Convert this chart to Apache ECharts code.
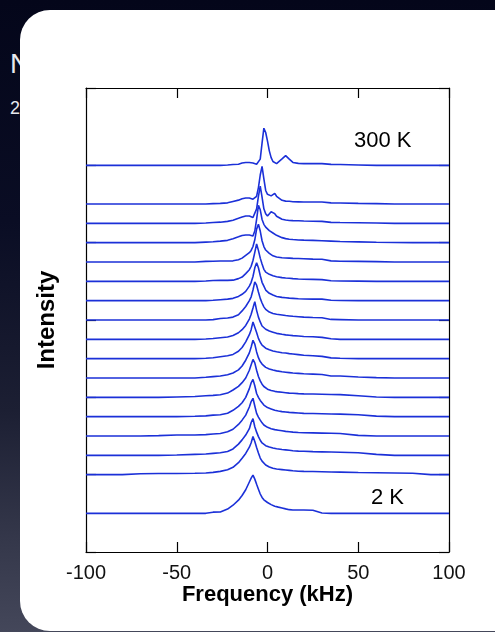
<!DOCTYPE html>
<html>
<head>
<meta charset="utf-8">
<script src="https://cdn.jsdelivr.net/npm/echarts@6/dist/echarts.min.js"></script>
<style>
  html, body { margin: 0; padding: 0; width: 495px; height: 632px; overflow: hidden; }
  body { background: linear-gradient(to bottom, #04061a 0%, #0a0d24 35%, #1c1f33 65%, #34374a 85%, #44475a 100%); position: relative; font-family: 'Liberation Sans', Arial, sans-serif; }
  #bgN { position: absolute; left: 10px; top: 46px; color: #e8e8ee; font-size: 28px; line-height: 36px; }
  #bg2 { position: absolute; left: 10px; top: 97px; color: #e8e8ee; font-size: 18px; line-height: 22px; }
  #card { position: absolute; left: 20px; top: 10px; width: 510px; height: 621px; background: #ffffff; border-radius: 30px; }
  #chart { position: absolute; left: 0; top: 0; width: 495px; height: 632px; }
</style>
</head>
<body>
<div id="bgN">N</div>
<div id="bg2">2</div>
<div id="card"></div>
<div id="chart"></div>
<script>
// Frequency grid (kHz)
const freq = [-100,-90,-80,-70,-60,-50,-40,
  -34,-30,-26,-22,-19,-16,-14,-12,-10,
  -9,-8,-7,-6,-5,-4,-3,-2,-1,0,1,2,3,4,5,6,
  8,10,12,14,17,20,25,30,35,40,
  50,60,70,80,90,100];

// Vertical offsets of each trace (top 300 K ... bottom 2 K)
const offsets = [20,18,17,16,15,14,13,12,11,10,9,8,7,6,5,4,2];

const tickLabels = ['-100','-50','0','50','100'];
const labelTop = '300 K';
const labelBottom = '2 K';

const s300 = [0,0,0,0,0,0,0,
  0,0,0,0.02,0.04,0.06,0.12,0.15,0.15,
  0.14,0.12,0.08,0.06,0.12,0.32,1.15,1.92,1.7,1.25,0.75,0.4,0.2,0.12,0.09,0.12,
  0.33,0.5,0.32,0.15,0.1,0.09,0.09,0.09,0.05,0.04,
  0.02,0,0,0,0,0];
const sT1 = [0,0,0,0,0,0,0,
  0,0.02,0.03,0.06,0.13,0.2,0.27,0.31,0.31,
  0.28,0.25,0.22,0.4,0.85,1.5,1.95,1.3,0.7,0.5,0.42,0.42,0.52,0.55,0.4,0.3,
  0.19,0.15,0.14,0.12,0.11,0.1,0.1,0.1,0.06,0.05,
  0.03,0.02,0,0,0,0];
const sT2 = [0,0,0,0,0,0,0,
  0.02,0.04,0.06,0.1,0.16,0.26,0.33,0.38,0.38,
  0.35,0.3,0.35,0.75,1.4,1.93,1.35,0.75,0.5,0.38,0.45,0.6,0.63,0.5,0.37,0.3,
  0.21,0.17,0.15,0.14,0.13,0.12,0.11,0.1,0.05,0.04,
  0.03,0.02,0,0,0,0];
const sT3 = [0,0,0,0,0,0,0,
  0.03,0.05,0.08,0.12,0.2,0.3,0.37,0.4,0.4,
  0.36,0.35,0.6,1.2,1.93,1.7,1.2,0.95,0.8,0.7,0.62,0.55,0.5,0.44,0.38,0.33,
  0.26,0.21,0.18,0.16,0.14,0.13,0.12,0.1,0.08,0.06,
  0.04,0.02,0.01,0,0,0];
const sT4 = [0,0,0,0,0,0,0,
  0.03,0.04,0.05,0.05,0.06,0.12,0.2,0.34,0.48,
  0.6,0.8,1.15,1.7,1.95,1.6,1.1,0.8,0.62,0.52,0.45,0.38,0.32,0.28,0.26,0.24,
  0.22,0.21,0.2,0.19,0.18,0.17,0.15,0.14,0.06,0.04,
  0.03,0.02,0,0,0,0];
const sT5 = [0,0,0,0,0,0,0,
  0.02,0.04,0.05,0.05,0.06,0.14,0.22,0.4,0.6,
  0.78,1.08,1.5,1.93,1.6,1.2,0.9,0.62,0.48,0.4,0.36,0.32,0.29,0.26,0.24,0.22,
  0.19,0.17,0.16,0.14,0.12,0.11,0.1,0.09,0.03,0.02,
  0.01,0,0,0,0,0];
const sT6 = [0,0,0,0,0,0,0,
  0,0.02,0.05,0.08,0.12,0.22,0.33,0.48,0.75,
  0.95,1.25,1.7,1.96,1.7,1.3,0.95,0.75,0.55,0.45,0.38,0.33,0.29,0.25,0.22,0.2,
  0.17,0.15,0.13,0.12,0.1,0.09,0.08,0.08,0.02,0.01,
  0,0,0,0,0,0];
const sT7 = [0,0,0,0,0,0,0,
  0,0.02,0.08,0.1,0.15,0.27,0.47,0.7,1.0,
  1.2,1.55,1.97,1.8,1.45,1.12,0.88,0.68,0.55,0.46,0.41,0.37,0.34,0.32,0.3,0.29,
  0.26,0.23,0.21,0.19,0.17,0.15,0.13,0.12,0.03,0.02,
  0,0,0,0,0,0];
const sT8 = [0,0,0,0,0,0,0,
  0.02,0.04,0.08,0.12,0.2,0.34,0.5,0.72,1.05,
  1.3,1.62,1.95,1.5,1.15,0.9,0.69,0.6,0.52,0.47,0.43,0.4,0.37,0.34,0.31,0.29,
  0.26,0.23,0.21,0.19,0.17,0.15,0.13,0.1,0.03,0,
  0,0,0,0,0,0];
const sT9 = [0,0,0,0,0,0,0,
  0.02,0.05,0.1,0.15,0.22,0.38,0.58,0.87,1.24,
  1.5,1.9,1.8,1.35,1.05,0.85,0.7,0.6,0.54,0.5,0.46,0.42,0.4,0.38,0.36,0.34,
  0.31,0.29,0.26,0.24,0.21,0.18,0.15,0.12,0.04,0.02,
  0,0,0,0,0,0];
const sT10 = [0,0,0,0,0,0,0,
  0.04,0.07,0.1,0.17,0.26,0.42,0.62,0.92,1.3,
  1.6,1.95,1.75,1.35,1.05,0.85,0.72,0.62,0.55,0.5,0.47,0.44,0.41,0.39,0.37,0.35,
  0.32,0.3,0.28,0.26,0.24,0.22,0.2,0.18,0.1,0.1,
  0.05,0.02,0,0,0,0];
const sT11 = [0,0,0,0,0,0.02,0.04,
  0.08,0.1,0.13,0.22,0.38,0.57,0.76,1.0,1.4,
  1.68,1.96,1.78,1.4,1.08,0.85,0.68,0.56,0.48,0.42,0.38,0.35,0.33,0.31,0.29,0.28,
  0.26,0.24,0.22,0.21,0.19,0.18,0.17,0.16,0.15,0.14,
  0.08,0.02,0,0,0,0];
const sT12 = [0,0,0,0,0,0,0.02,
  0.04,0.08,0.1,0.18,0.33,0.53,0.72,1.0,1.45,
  1.75,1.93,1.6,1.2,1.0,0.84,0.72,0.6,0.52,0.47,0.43,0.4,0.36,0.33,0.31,0.29,
  0.26,0.24,0.22,0.21,0.19,0.17,0.16,0.15,0.14,0.13,
  0.1,0.03,0,0,0,0];
const sT13 = [0,0,0,0,0.02,0.05,0.05,
  0.07,0.1,0.13,0.22,0.35,0.6,0.82,1.08,1.5,
  1.78,1.95,1.55,1.17,0.98,0.82,0.68,0.57,0.5,0.45,0.41,0.38,0.35,0.33,0.31,0.3,
  0.27,0.24,0.22,0.2,0.18,0.17,0.16,0.15,0.14,0.13,
  0.03,0,0,0,0,0];
const sT14 = [0,0,0,0,0,0.02,0.05,
  0.07,0.1,0.13,0.2,0.33,0.58,0.8,1.05,1.38,
  1.7,1.9,1.48,1.2,0.97,0.78,0.64,0.56,0.5,0.46,0.43,0.4,0.38,0.36,0.34,0.32,
  0.3,0.28,0.26,0.24,0.22,0.21,0.19,0.18,0.17,0.16,
  0.13,0.05,0,0,0,0];
const sT15 = [0,0,0,0.05,0.06,0.06,0.07,
  0.09,0.12,0.17,0.25,0.38,0.62,0.85,1.1,1.42,
  1.65,1.97,1.72,1.4,1.12,0.86,0.7,0.6,0.5,0.45,0.4,0.36,0.33,0.31,0.29,0.28,
  0.26,0.24,0.22,0.2,0.18,0.17,0.16,0.15,0.14,0.13,
  0.11,0.1,0.09,0.07,0,0];
const s2K = [0,0,0,0,0,0,0,
  0,0.06,0.07,0.22,0.42,0.68,0.92,1.22,1.62,
  1.82,1.98,1.77,1.5,1.25,1.0,0.82,0.7,0.62,0.56,0.5,0.45,0.41,0.37,0.34,0.32,
  0.28,0.23,0.19,0.17,0.17,0.17,0.16,0.02,0,0,
  0,0,0,0,0,0];

const spectra = [s300,sT1,sT2,sT3,sT4,sT5,sT6,sT7,sT8,sT9,sT10,sT11,sT12,sT13,sT14,sT15,s2K];

const LINE_COLOR = '#1b30d8';
const chart = echarts.init(document.getElementById('chart'), null, {renderer: 'canvas'});

const series = spectra.map((s, i) => ({
  type: 'line',
  xAxisIndex: 0,
  yAxisIndex: 0,
  data: freq.map((f, j) => [f, s[j] + offsets[i]]),
  showSymbol: false,
  symbol: 'none',
  silent: true,
  lineStyle: { color: LINE_COLOR, width: 1.6 },
  z: 3
}));

const axisLineStyle = { show: true, onZero: false, lineStyle: { color: '#000', width: 1.2 } };
const tickStyle = { show: true, inside: true, length: 10, lineStyle: { color: '#000', width: 1.2 } };

chart.setOption({
  animation: false,
  backgroundColor: 'transparent',
  grid: { left: 86, right: 46, top: 88, bottom: 80, containLabel: false },
  xAxis: [{
    type: 'value', position: 'bottom', min: -100, max: 100, interval: 50,
    axisLine: axisLineStyle, axisTick: tickStyle, splitLine: { show: false },
    axisLabel: { show: true, margin: 11, color: '#111', fontSize: 20,
      fontFamily: "'Liberation Sans', Arial, sans-serif",
      formatter: (v) => tickLabels[Math.round((v + 100) / 50)] },
    name: 'Frequency (kHz)', nameLocation: 'middle', nameGap: 32, nameMoveOverlap: false,
    nameTextStyle: { color: '#000', fontSize: 22, fontWeight: 'bold', fontFamily: "'Liberation Sans', Arial, sans-serif" }
  }, {
    type: 'value', position: 'top', min: -100, max: 100, interval: 50,
    axisLine: axisLineStyle, axisTick: tickStyle, splitLine: { show: false },
    axisLabel: { show: false }
  }],
  yAxis: [{
    type: 'value', position: 'left', min: 0, max: 24, interval: 4,
    axisLine: axisLineStyle, axisTick: tickStyle, splitLine: { show: false },
    axisLabel: { show: false },
    name: 'Intensity', nameLocation: 'middle', nameGap: 27, nameRotate: 90,
    nameTextStyle: { color: '#000', fontSize: 24, fontWeight: 'bold', fontFamily: "'Liberation Sans', Arial, sans-serif" }
  }, {
    type: 'value', position: 'right', min: 0, max: 24, interval: 4,
    axisLine: axisLineStyle, axisTick: tickStyle, splitLine: { show: false },
    axisLabel: { show: false }
  }],
  graphic: [
    { type: 'text', left: 354, top: 130, z: 10,
      style: { text: labelTop, fill: '#000', font: "22px 'Liberation Sans', Arial, sans-serif" } },
    { type: 'text', left: 371, top: 487, z: 10,
      style: { text: labelBottom, fill: '#000', font: "22px 'Liberation Sans', Arial, sans-serif" } }
  ],
  series: series
});
</script>
</body>
</html>
